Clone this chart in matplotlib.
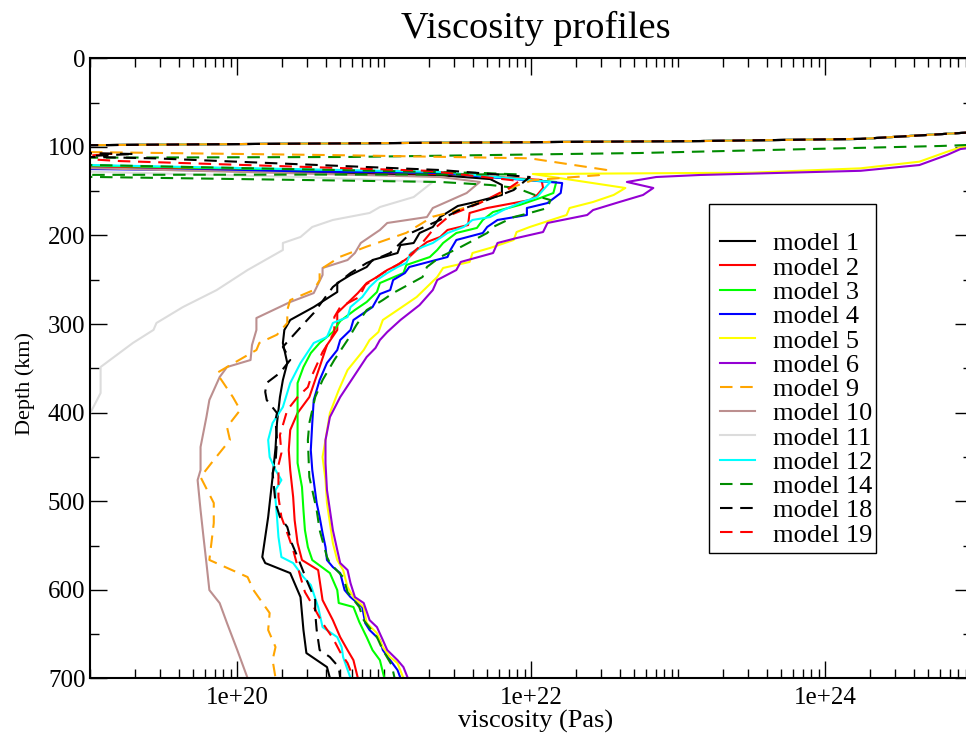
import numpy as np
import matplotlib
matplotlib.use("Agg")
import matplotlib.pyplot as plt
from matplotlib.lines import Line2D
from matplotlib.patches import Rectangle
from matplotlib.ticker import LogLocator, NullFormatter, FixedLocator, FuncFormatter

plt.rcParams['font.family'] = ['Liberation Serif', 'DejaVu Serif']

# ---------------------------------------------------------------------------
# Viscosity profiles: depth (km) and log10 viscosity (Pa s)
# ---------------------------------------------------------------------------
lid_depth = [0, 75, 84, 91, 93.4, 97.1, 99]
lid_logvisc = [26.0, 26.0, 24.95, 24.24, 23.15, 19.75, 18.3]

m1_depth = [123, 132, 136.3, 143, 154.3, 162.2, 166.7, 179.2, 190.4, 197.2, 208.5, 210.8,
            219.8, 227.7, 235.6, 244.6, 253.7, 263.8, 280.8, 295.4, 306.7, 321.4, 344,
            363.2, 382.4, 411.7, 440, 472.7, 517.8, 540.4, 563, 569.8, 581.1, 608.2,
            645.4, 671.4, 687.2, 699.6]
m1_logvisc = [19.0, 21.38, 21.72, 21.80, 21.80, 21.62, 21.50, 21.38, 21.33, 21.24, 21.20,
              21.11, 21.09, 20.92, 20.88, 20.77, 20.68, 20.68, 20.52, 20.36, 20.32, 20.31,
              20.34, 20.31, 20.29, 20.27, 20.26, 20.24, 20.21, 20.19, 20.17, 20.19, 20.36,
              20.43, 20.45, 20.47, 20.61, 20.63]

m2_depth = [122, 131, 137.4, 146.4, 154.3, 160, 165.6, 169, 174.6, 188.2, 193.8, 201.7,
            207.4, 216.4, 224.3, 233.3, 239, 246.9, 253.7, 265, 276.3, 287.6, 306.7,
            323.7, 348.5, 382.4, 400.4, 419.6, 442.2, 464.8, 495.3, 521.3, 547.2, 566.4,
            577.7, 611.6, 634.2, 653.4, 668.1, 679.4, 699.6]
m2_logvisc = [19.0, 21.5, 22.07, 22.08, 22.04, 21.99, 21.81, 21.70, 21.58, 21.57, 21.43,
              21.38, 21.29, 21.22, 21.17, 21.09, 21.02, 20.95, 20.88, 20.82, 20.75, 20.68,
              20.68, 20.61, 20.56, 20.49, 20.41, 20.36, 20.35, 20.36, 20.38, 20.39, 20.41,
              20.44, 20.55, 20.58, 20.65, 20.70, 20.75, 20.79, 20.82]

m3_depth = [121, 129.5, 139.6, 152.1, 157.7, 165.6, 173.5, 182.5, 191.5, 197.2, 208.5,
            216.4, 224.3, 233.3, 242.4, 253.7, 263.8, 275.1, 284.1, 296.6, 309, 321.4,
            332.7, 348.5, 366.6, 393.7, 419.6, 456.9, 484, 510, 532.5, 551.7, 566.4,
            581.1, 600.3, 614.9, 619.4, 636.4, 653.4, 668.1, 679.4, 699.6]
m3_logvisc = [19.0, 21.38, 22.17, 22.15, 22.06, 21.92, 21.74, 21.67, 21.63, 21.49, 21.40,
              21.36, 21.31, 21.15, 21.13, 20.97, 20.95, 20.88, 20.80, 20.70, 20.65, 20.56,
              20.50, 20.45, 20.41, 20.41, 20.41, 20.41, 20.44, 20.45, 20.46, 20.48, 20.51,
              20.63, 20.68, 20.69, 20.79, 20.83, 20.88, 20.92, 20.97, 21.00]

m4_depth = [125, 129.5, 140.8, 152.1, 163.4, 169, 176.9, 182.5, 190.4, 197.2, 205.1, 216.4,
            224.3, 235.6, 242.4, 250.3, 261.6, 266.1, 280.8, 286.4, 295.4, 306.7, 318,
            329.3, 343.9, 363.2, 385.7, 411.7, 442.2, 464.8, 502, 517.8, 535.9, 551.7,
            566.4, 574.3, 581.1, 600.3, 608.2, 619.5, 637.6, 645.4, 656.7, 668, 679.4,
            690.6, 699.6]
m4_logvisc = [19.0, 21.38, 22.21, 22.20, 22.11, 21.97, 21.97, 21.77, 21.70, 21.67, 21.49,
              21.45, 21.43, 21.17, 21.14, 21.06, 21.04, 20.97, 20.92, 20.87, 20.79, 20.77,
              20.70, 20.68, 20.61, 20.56, 20.52, 20.51, 20.50, 20.51, 20.54, 20.56, 20.58,
              20.60, 20.61, 20.65, 20.70, 20.73, 20.77, 20.85, 20.87, 20.90, 20.97, 20.99,
              21.04, 21.09, 21.11]

m5_depth = [0, 92, 98.5, 100.5, 105.4, 116.7, 124.2, 129.1, 130.6, 146.4, 154.3, 162.2, 169,
            176.9, 190.4, 196.1, 205.1, 214.1, 219.8, 229.9, 236.7, 246.9, 258.2, 269.5,
            284.2, 295.4, 309, 318, 329.3, 351.9, 374.5, 400.4, 430.9, 450.1, 476.1, 502,
            524.6, 547.2, 566.4, 577.7, 596.9, 608.2, 619.5, 637.6, 648.9, 664.7, 676,
            682.7, 699.6]
m5_logvisc = [26.0, 26.0, 25.05, 24.92, 24.83, 24.64, 24.24, 23.5, 22.01, 22.64, 22.56,
              22.42, 22.26, 22.24, 21.99, 21.90, 21.88, 21.72, 21.60, 21.58, 21.40, 21.36,
              21.29, 21.22, 21.09, 20.99, 20.96, 20.90, 20.86, 20.75, 20.69, 20.63, 20.60,
              20.58, 20.60, 20.61, 20.63, 20.65, 20.68, 20.72, 20.75, 20.79, 20.86, 20.88,
              20.95, 20.99, 21.04, 21.09, 21.13]

m6_depth = [0, 92, 100, 102.4, 109, 120.5, 127, 131.7, 134, 139.6, 146.4, 154.3, 162.2,
            171.3, 176.9, 185.9, 196.1, 202.9, 208.5, 219.8, 229.9, 239, 250.3, 261.6,
            278.5, 295.4, 309, 318, 327, 337.2, 359.8, 382.4, 405, 430.9, 456.9, 487.4,
            510, 532.5, 555.1, 569.8, 577.7, 592.4, 608.2, 614.9, 634.2, 642.1, 656.7,
            668, 679.4, 687.2, 699.6]
m6_logvisc = [26.0, 26.0, 25.05, 24.92, 24.83, 24.64, 24.24, 23.15, 22.85, 22.65, 22.83,
              22.76, 22.60, 22.42, 22.38, 22.11, 22.08, 21.90, 21.77, 21.74, 21.52, 21.49,
              21.36, 21.33, 21.24, 21.11, 21.02, 20.97, 20.94, 20.88, 20.79, 20.70, 20.63,
              20.60, 20.60, 20.61, 20.63, 20.65, 20.68, 20.70, 20.75, 20.77, 20.80, 20.86,
              20.90, 20.95, 20.99, 21.02, 21.09, 21.13, 21.16]

m9_depth = [104, 106, 109.5, 112.9, 126, 131.9, 137.6, 144.9, 160, 173, 178.8, 197,
            212.6, 224, 239, 250.3, 261.6, 272.9, 284.2, 298.8, 312, 321.3, 329.3, 348.5,
            355.3, 382.4, 397, 416.2, 430.9, 453.5, 472.7, 502, 524.6, 566.3, 585.6, 600.3,
            626.2, 645.4, 664.6, 679.3, 699.5]
m9_logvisc = [18.3, 19.05, 20.75, 21.99, 22.51, 22.46, 22.01, 21.88, 21.70, 21.47, 21.33,
              21.15, 20.88, 20.70, 20.56, 20.56, 20.52, 20.36, 20.34, 20.34, 20.27, 20.15,
              20.13, 19.93, 19.86, 19.97, 20.02, 19.93, 19.95, 19.84, 19.75, 19.84, 19.84,
              19.81, 20.07, 20.11, 20.22, 20.21, 20.26, 20.24, 20.26]

m10_depth = [124, 134, 139.6, 152.1, 169, 179.2, 185.9, 193.8, 208.5, 219.8, 227.7, 236.7,
             244.6, 265, 275.1, 293.2, 306.7, 323.7, 340.6, 348.5, 359.8, 385.7, 404.9,
             438.8, 464.8, 476.1, 510, 540.4, 569.8, 600.3, 615, 637.6, 668.1, 699.7]
m10_logvisc = [19.0, 21.38, 21.65, 21.56, 21.33, 21.29, 21.02, 20.97, 20.84, 20.80, 20.75,
               20.58, 20.58, 20.52, 20.36, 20.13, 20.13, 20.10, 20.09, 19.93, 19.88, 19.81,
               19.79, 19.75, 19.75, 19.73, 19.75, 19.77, 19.79, 19.81, 19.88, 19.93, 20.00,
               20.07]

m11_depth = [128, 134, 139.6, 156.6, 167.9, 174.6, 182.5, 190.4, 201.7, 208.5, 216.4, 239,
             261.6, 280.8, 298.8, 306.6, 321.3, 348.5, 377.9, 400.4, 420, 700]
m11_logvisc = [19.0, 20.43, 21.33, 21.20, 20.97, 20.90, 20.65, 20.51, 20.43, 20.31, 20.31,
               20.07, 19.86, 19.63, 19.45, 19.43, 19.29, 19.07, 19.07, 19.0, 18.7, 18.5]

m12_depth = [120.5, 128.3, 139.6, 148.7, 156.6, 163.4, 171.3, 179.2, 182.5, 190.4, 197.2,
             208.5, 213, 219.8, 231.1, 235.6, 242.4, 250.3, 258.2, 269.5, 280.8, 292.1,
             298.8, 314.6, 321.4, 344, 366.6, 393.7, 411.7, 430.9, 450.1, 464.8, 476.1,
             487.4, 498.7, 517.8, 540.4, 563, 569.8, 585.6, 594.6, 619.5, 642.1, 653.4,
             664.7, 676, 699.6]
m12_logvisc = [19.0, 21.38, 22.13, 22.08, 22.04, 21.92, 21.81, 21.72, 21.60, 21.54, 21.43,
               21.33, 21.26, 21.18, 21.15, 21.09, 21.02, 20.95, 20.90, 20.85, 20.77, 20.75,
               20.65, 20.61, 20.52, 20.43, 20.36, 20.31, 20.24, 20.21, 20.22, 20.26, 20.30,
               20.26, 20.26, 20.27, 20.28, 20.30, 20.38, 20.45, 20.50, 20.55, 20.58, 20.68,
               20.71, 20.72, 20.77]

m14_depth = [0, 92, 97.9, 99, 106.9, 111.4, 112.5, 118, 120.4, 129.5, 131, 133, 133.9,
             139.6, 143, 146.4, 156.6, 160, 169, 174.6, 179.2, 190.4, 197.2, 213, 224.3,
             235.6, 246.9, 265, 272.9, 284.2, 301.1, 318, 340.5, 363.2, 382.4, 411.7,
             430.9, 472.7, 487.4, 510, 532.5, 563, 569.8, 585.6, 602.5, 619.5, 634.2,
             653.4, 668, 684.9, 699.6]
m14_logvisc = [26.0, 25.6, 24.96, 24.78, 22.74, 20.75, 18.3, 18.3, 19.0, 21.67, 21.9, 12.0,
               19.0, 21.38, 21.72, 21.90, 22.06, 22.13, 22.11, 21.99, 21.88, 21.74, 21.70,
               21.52, 21.38, 21.29, 21.26, 21.06, 20.99, 20.88, 20.81, 20.75, 20.66, 20.58,
               20.53, 20.49, 20.48, 20.49, 20.51, 20.54, 20.56, 20.61, 20.63, 20.72, 20.75,
               20.83, 20.86, 20.95, 20.99, 21.05, 21.07]

m18_depth = [106, 108, 111, 113, 126.1, 134, 148.7, 165, 172, 182.4, 197.2, 219.8, 231.1,
             242.4, 258.2, 287.5, 300, 325.8, 340.5, 355.1, 366.4, 376.6, 385.7, 400.4,
             408.3, 430.9, 456.9, 468.2, 502, 517.8, 529.1, 547.2, 563, 592.3, 611.6,
             626.2, 645.4, 668, 675.9, 687.2, 699.6]
m18_logvisc = [18.6, 19.3, 18.9, 19.45, 21.38, 21.99, 21.88, 21.62, 21.50, 21.38, 21.18,
               21.04, 20.88, 20.77, 20.65, 20.52, 20.45, 20.31, 20.36, 20.29, 20.20, 20.19,
               20.20, 20.27, 20.26, 20.27, 20.26, 20.24, 20.26, 20.29, 20.34, 20.37, 20.41,
               20.48, 20.53, 20.53, 20.54, 20.56, 20.63, 20.69, 20.70]

m19_depth = [106, 108, 112, 116, 127, 138.5, 146.4, 163.4, 176.9, 193.8, 214.1, 231.1,
             241.3, 256, 269.5, 280.8, 292.1, 309, 323.7, 331.6, 361, 371.2, 382.4, 397.1,
             425.3, 445.6, 459.2, 495.3, 517.8, 540.4, 555.1, 585.6, 602.5, 619.5, 637.6,
             654.5, 670.3, 682.7, 699.6]
m19_logvisc = [18.6, 19.15, 18.8, 19.2, 21.3, 21.92, 21.85, 21.65, 21.45, 21.33, 21.23,
               21.11, 21.00, 20.87, 20.83, 20.70, 20.66, 20.66, 20.61, 20.58, 20.50, 20.48,
               20.41, 20.34, 20.29, 20.30, 20.28, 20.28, 20.30, 20.35, 20.38, 20.43, 20.46,
               20.52, 20.58, 20.65, 20.70, 20.75, 20.79]

labels = ['model 1', 'model 2', 'model 3', 'model 4', 'model 5', 'model 6', 'model 9',
          'model 10', 'model 11', 'model 12', 'model 14', 'model 18', 'model 19']
colors = ['#000000', '#ff0000', '#00ff00', '#0000ff', '#ffff00', '#9400d3', '#ffa500',
          '#bc8f8f', '#dcdcdc', '#00ffff', '#008b00', '#000000', '#ff0000']
# dash offset (None = solid line); the orange dashes sit between the black ones
dash_offset = [None, None, None, None, None, None, 4.85, None, None, None, 0.0, 0.0, 0.0]
# models whose profile starts with the common high-viscosity lid
with_lid = [True, True, True, True, False, False, True, True, True, True, False, True, True]
# stacking order of the curves (orange over cyan, black dashes over red dashes)
zorders = [2.0, 2.01, 2.02, 2.03, 2.04, 2.05, 2.2, 2.06, 2.07, 2.1, 2.15, 2.4, 2.3]

profiles = [(m1_depth, m1_logvisc), (m2_depth, m2_logvisc), (m3_depth, m3_logvisc),
            (m4_depth, m4_logvisc), (m5_depth, m5_logvisc), (m6_depth, m6_logvisc),
            (m9_depth, m9_logvisc), (m10_depth, m10_logvisc), (m11_depth, m11_logvisc),
            (m12_depth, m12_logvisc), (m14_depth, m14_logvisc), (m18_depth, m18_logvisc),
            (m19_depth, m19_logvisc)]

DASH = (6.0, 3.7)

# ---------------------------------------------------------------------------
W, H = 966, 740
fig = plt.figure(figsize=(W / 100, H / 100), dpi=100)
x0, x1 = 90.3, 972.3
y0, y1 = 58.3, 678.4
ax = fig.add_axes([x0 / W, 1 - y1 / H, (x1 - x0) / W, (y1 - y0) / H])

handles = []
for (d, lv), lab, col, off, lid, z in zip(profiles, labels, colors, dash_offset,
                                          with_lid, zorders):
    depth = np.array((lid_depth if lid else []) + d, dtype=float)
    visc = 10.0 ** np.array((lid_logvisc if lid else []) + lv, dtype=float)
    ls = '-' if off is None else (off, DASH)
    ax.plot(visc, depth, color=col, lw=1.5, ls=ls, zorder=z)
    handles.append(Line2D([], [], color=col, lw=1.5,
                          ls='-' if off is None else (0, DASH), label=lab))

ax.set_xscale('log')
ax.set_xlim(1e19, 1e25)
ax.set_ylim(700, 0)

ax.xaxis.set_major_locator(FixedLocator([1e20, 1e22, 1e24]))
ax.xaxis.set_major_formatter(FuncFormatter(lambda v, p: '1e+%d' % round(np.log10(v))))
ax.xaxis.set_minor_locator(LogLocator(base=10, subs=np.arange(1, 10), numticks=100))
ax.xaxis.set_minor_formatter(NullFormatter())
ax.yaxis.set_major_locator(FixedLocator(np.arange(0, 701, 100)))
ax.yaxis.set_minor_locator(FixedLocator(np.arange(50, 700, 100)))

ax.tick_params(which='both', direction='in', top=True, right=True, width=1.0,
               labelsize=18)
ax.tick_params(which='major', length=12.2)
ax.tick_params(which='minor', length=6.5)
ax.tick_params(axis='x', pad=6)
ax.tick_params(axis='y', pad=3.5)
for s in ax.spines.values():
    s.set_linewidth(1.5)

fig.text(536 / W, 1 - 38 / H, 'Viscosity profiles', ha='center', va='baseline',
         fontsize=27.6)
fig.text(536 / W, 1 - 728 / H, 'viscosity (Pas)', ha='center', va='baseline',
         fontsize=19)
fig.text(25 / W, 1 - 383 / H, 'Depth (km)', ha='center', va='center', rotation=90,
         fontsize=16)

# legend entries without frame; the box is drawn separately
leg = ax.legend(handles=handles, loc='upper left',
                bbox_to_anchor=((720 - x0) / (x1 - x0), 1 - (232 - y0) / (y1 - y0)),
                borderaxespad=0, frameon=False, prop={'size': 19}, handlelength=1.33,
                handletextpad=0.68, borderpad=0.0, labelspacing=0.03)
leg.set_zorder(5)
box = Rectangle((709 / W, 1 - 553 / H), (876 - 709) / W, (553 - 204) / H,
                transform=fig.transFigure, facecolor='white', edgecolor='black',
                linewidth=1.0, zorder=4)
fig.add_artist(box)
fig.add_artist(leg)

fig.savefig('out.png', dpi=100)
